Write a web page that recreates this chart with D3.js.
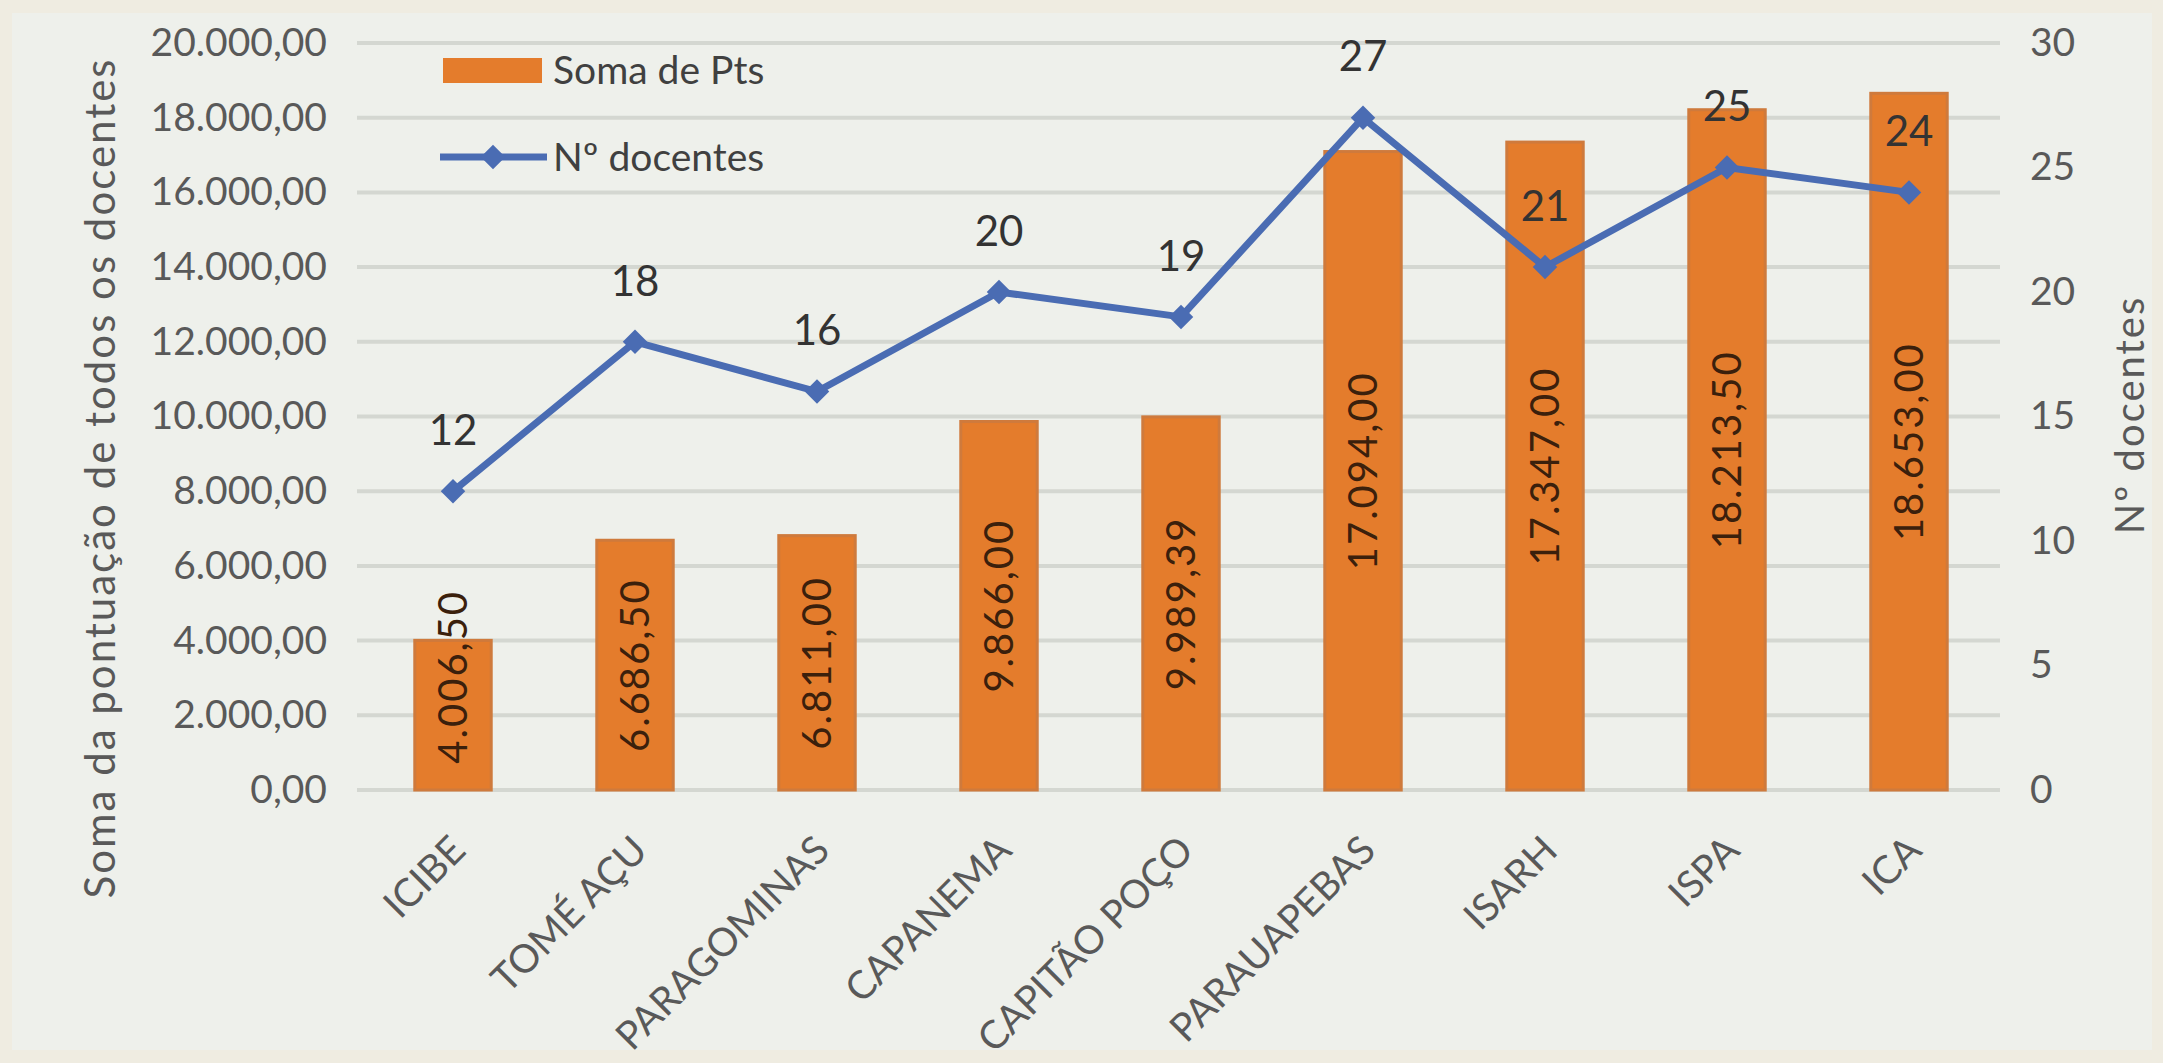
<!DOCTYPE html>
<html>
<head>
<meta charset="utf-8">
<script src="https://cdn.jsdelivr.net/npm/d3@7"></script>
<style>
  body { margin: 0; background: #efece1; }
  svg { display: block; font-family: Lato, "Open Sans", sans-serif; }
</style>
</head>
<body>
<svg id="canvas" width="2163" height="1063"></svg>
<script>
// campus names on the x axis
let categories = ['ICIBE', 'TOMÉ AÇU', 'PARAGOMINAS', 'CAPANEMA', 'CAPITÃO POÇO', 'PARAUAPEBAS', 'ISARH', 'ISPA', 'ICA']

// Soma de Pts (left axis)
let somaPts = [4006.5, 6686.5, 6811, 9866, 9989.39, 17094, 17347, 18213.5, 18653]

// Nº docentes (right axis)
let docentes = [12, 18, 16, 20, 19, 27, 21, 25, 24]

let leftTicks = [0, 2000, 4000, 6000, 8000, 10000, 12000, 14000, 16000, 18000, 20000]
let rightTicks = [0, 5, 10, 15, 20, 25, 30]

let seriesNames = ['Soma de Pts', 'Nº docentes']
let leftTitle = 'Soma da pontuação de todos os docentes'
let rightTitle = 'Nº docentes'

let ptBR = d3.formatLocale({ decimal: ',', thousands: '.', grouping: [3], currency: ['R$ ', ''] })
let fmt = ptBR.format(',.2f')

let canvas = d3.select('#canvas')

let orange = '#e47c2c'
let blue = '#4a6cb3'
let grey = '#595959'

// panel behind the chart (photo has a beige frame around it)
canvas.append('rect')
    .attr('x', 12).attr('y', 13)
    .attr('width', 2140).attr('height', 1037)
    .attr('fill', '#eef0eb')

let plotLeft = 357
let plotRight = 2000
let plotTop = 43
let plotBottom = 790

let xScale = d3.scaleBand()
    .domain(categories)
    .range([362, plotRight])
    .paddingInner(0.58)
    .paddingOuter(0.29)

let yLeft = d3.scaleLinear().domain([0, 20000]).range([plotBottom, plotTop])
let yRight = d3.scaleLinear().domain([0, 30]).range([plotBottom, plotTop])

// gridlines
canvas.append('g')
    .selectAll('line')
    .data(leftTicks)
    .enter()
    .append('line')
    .attr('x1', plotLeft)
    .attr('x2', plotRight)
    .attr('y1', (d) => yLeft(d))
    .attr('y2', (d) => yLeft(d))
    .attr('stroke', '#d4d7d1')
    .attr('stroke-width', 4)

// left axis
let leftAxis = d3.axisLeft(yLeft).tickValues(leftTicks).tickFormat(fmt).tickSize(0).tickPadding(0)
let gLeft = canvas.append('g')
    .attr('transform', 'translate(327, 0)')
    .call(leftAxis)
gLeft.select('.domain').remove()
gLeft.selectAll('text')
    .attr('fill', grey)
    .style('font-size', '39px')
    .style('font-family', 'Lato, sans-serif')

// right axis
let rightAxis = d3.axisRight(yRight).tickValues(rightTicks).tickSize(0).tickPadding(0)
let gRight = canvas.append('g')
    .attr('transform', 'translate(2030, 0)')
    .call(rightAxis)
gRight.select('.domain').remove()
gRight.selectAll('text')
    .attr('fill', grey)
    .style('font-size', '39px')
    .style('font-family', 'Lato, sans-serif')

// x axis labels, slanted
let gBottom = canvas.append('g')
gBottom.selectAll('text')
    .data(categories)
    .enter()
    .append('text')
    .attr('transform', (d) => {
        let cx = xScale(d) + xScale.bandwidth() / 2 + 5
        return 'translate(' + cx + ', 843) rotate(-45)'
    })
    .attr('text-anchor', 'end')
    .attr('dy', '0.35em')
    .attr('fill', grey)
    .style('font-size', '39px')
    .text((d) => d)

// bars
let bars = canvas.append('g')
bars.selectAll('rect')
    .data(somaPts)
    .enter()
    .append('rect')
    .attr('x', (d, i) => xScale(categories[i]))
    .attr('y', (d) => yLeft(d))
    .attr('width', xScale.bandwidth())
    .attr('height', (d) => plotBottom - yLeft(d))
    .attr('fill', orange)
    .attr('stroke', '#cf7a3c')
    .attr('stroke-width', 3)

// bar value labels, rotated, centred in the bar (pushed up when the bar is too short)
let barLabelSize = 40
bars.selectAll('text')
    .data(somaPts)
    .enter()
    .append('text')
    .attr('transform', (d, i) => {
        let cx = xScale(categories[i]) + xScale.bandwidth() / 2
        let half = fmt(d).length * (barLabelSize * 0.26 + 1)
        let cy = Math.min((yLeft(d) + plotBottom) / 2, plotBottom - half - 22)
        return 'translate(' + cx + ', ' + cy + ') rotate(-90)'
    })
    .attr('text-anchor', 'middle')
    .attr('dy', '0.35em')
    .attr('fill', '#3b200c')
    .style('font-size', barLabelSize + 'px')
    .style('letter-spacing', '2px')
    .text((d) => fmt(d))

// docentes line
let lineGen = d3.line()
    .x((d, i) => xScale(categories[i]) + xScale.bandwidth() / 2)
    .y((d) => yRight(d))

canvas.append('path')
    .datum(docentes)
    .attr('d', lineGen)
    .attr('fill', 'none')
    .attr('stroke', blue)
    .attr('stroke-width', 7)
    .attr('stroke-linejoin', 'miter')

let diamond = d3.symbol().type(d3.symbolSquare).size(300)

canvas.append('g')
    .selectAll('path')
    .data(docentes)
    .enter()
    .append('path')
    .attr('d', diamond)
    .attr('transform', (d, i) => {
        let cx = xScale(categories[i]) + xScale.bandwidth() / 2
        return 'translate(' + cx + ', ' + yRight(d) + ') rotate(45)'
    })
    .attr('fill', blue)

canvas.append('g')
    .selectAll('text')
    .data(docentes)
    .enter()
    .append('text')
    .attr('x', (d, i) => xScale(categories[i]) + xScale.bandwidth() / 2)
    .attr('y', (d) => yRight(d) - 61)
    .attr('dy', '0.35em')
    .attr('text-anchor', 'middle')
    .attr('fill', '#333333')
    .style('font-size', '42px')
    .text((d) => d)

// axis titles
canvas.append('text')
    .attr('transform', 'translate(100, 478) rotate(-90)')
    .attr('text-anchor', 'middle')
    .attr('dy', '0.35em')
    .attr('fill', grey)
    .style('font-size', '42px')
    .style('letter-spacing', '2px')
    .text(leftTitle)

canvas.append('text')
    .attr('transform', 'translate(2130, 415) rotate(-90)')
    .attr('text-anchor', 'middle')
    .attr('dy', '0.35em')
    .attr('fill', grey)
    .style('font-size', '40px')
    .style('letter-spacing', '2px')
    .text(rightTitle)

// legend
let legend = canvas.append('g')
legend.append('rect')
    .attr('x', 443).attr('y', 58)
    .attr('width', 99).attr('height', 25)
    .attr('fill', orange)
legend.append('line')
    .attr('x1', 440).attr('x2', 547)
    .attr('y1', 157).attr('y2', 157)
    .attr('stroke', blue)
    .attr('stroke-width', 7)
legend.append('path')
    .attr('d', diamond)
    .attr('transform', 'translate(493, 157) rotate(45)')
    .attr('fill', blue)
legend.selectAll('text')
    .data(seriesNames)
    .enter()
    .append('text')
    .attr('x', 553)
    .attr('y', (d, i) => i === 0 ? 70 : 157)
    .attr('dy', '0.35em')
    .attr('fill', '#404040')
    .style('font-size', '39px')
    .text((d) => d)
</script>
</body>
</html>
